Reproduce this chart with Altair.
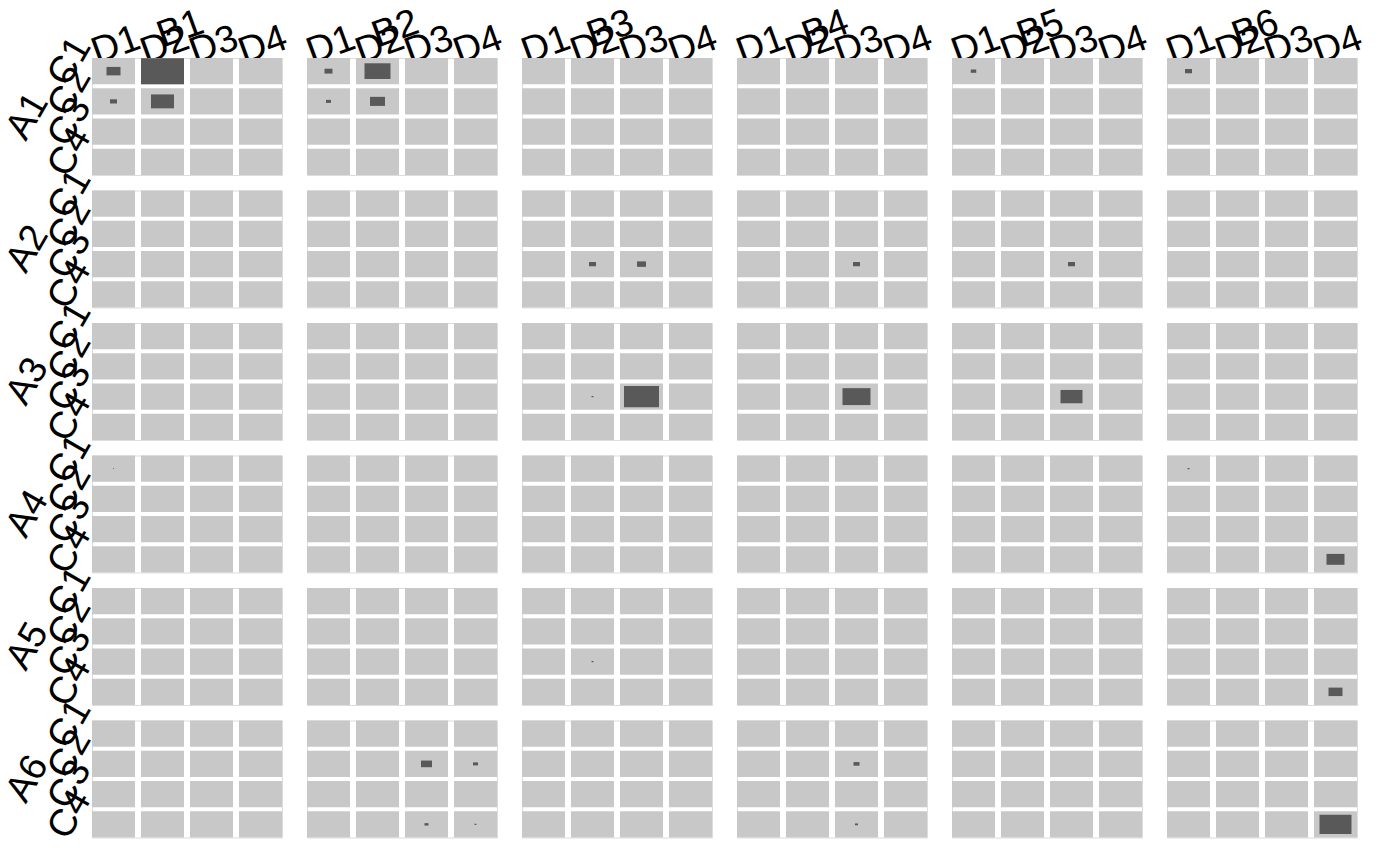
import altair as alt
import pandas as pd

A_CATS = ["A1", "A2", "A3", "A4", "A5", "A6"]
B_CATS = ["B1", "B2", "B3", "B4", "B5", "B6"]
C_CATS = ["C1", "C2", "C3", "C4"]
D_CATS = ["D1", "D2", "D3", "D4"]

# non-empty cells (value read from the area of the dark boxes)
cell_a = ["A1", "A1", "A1", "A1", "A1", "A1", "A1", "A1", "A1", "A1",
          "A2", "A2", "A2", "A2",
          "A3", "A3", "A3", "A3",
          "A4", "A4", "A4",
          "A5", "A5",
          "A6", "A6", "A6", "A6", "A6", "A6", "A6"]
cell_b = ["B1", "B1", "B1", "B1", "B2", "B2", "B2", "B2", "B5", "B6",
          "B3", "B3", "B4", "B5",
          "B3", "B3", "B4", "B5",
          "B1", "B6", "B6",
          "B3", "B6",
          "B2", "B2", "B2", "B2", "B4", "B4", "B6"]
cell_c = ["C1", "C1", "C2", "C2", "C1", "C1", "C2", "C2", "C1", "C1",
          "C3", "C3", "C3", "C3",
          "C3", "C3", "C3", "C3",
          "C1", "C1", "C4",
          "C3", "C4",
          "C2", "C2", "C4", "C4", "C2", "C4", "C4"]
cell_d = ["D1", "D2", "D1", "D2", "D1", "D2", "D1", "D2", "D1", "D1",
          "D2", "D3", "D3", "D3",
          "D2", "D3", "D3", "D3",
          "D1", "D1", "D4",
          "D2", "D4",
          "D3", "D4", "D3", "D4", "D3", "D3", "D4"]
cell_n = [196, 1849, 49, 529, 64, 676, 25, 225, 30, 49,
          49, 81, 49, 49,
          4, 1225, 784, 484,
          1, 4, 324,
          4, 196,
          121, 25, 16, 4, 36, 9, 1024]

lookup = {(a, b, c, d): n for a, b, c, d, n in zip(cell_a, cell_b, cell_c, cell_d, cell_n)}
rows = []
for a in A_CATS:
    for b in B_CATS:
        for c in C_CATS:
            for d in D_CATS:
                rows.append({"A": a, "B": b, "C": c, "D": d, "n": lookup.get((a, b, c, d), 0)})
df = pd.DataFrame(rows)

FONT = "Liberation Sans"
FS = 38
RECT_PATH = "M-1,-0.605L1,-0.605L1,0.605L-1,0.605Z"

x_enc = alt.X("D:N", sort=D_CATS, title=None,
              scale=alt.Scale(paddingInner=0.122, paddingOuter=0),
              axis=alt.Axis(orient="top", labelAngle=340, labelFontSize=FS, labelFont=FONT,
                            labelColor="black", domain=False, ticks=False, grid=False,
                            labelPadding=-6, labelOffset=9, labelAlign="center",
                            labelBaseline="bottom",
                            minExtent=20, maxExtent=20, labelOverlap=False))
y_enc = alt.Y("C:N", sort=C_CATS, title=None,
              scale=alt.Scale(paddingInner=0.13, paddingOuter=0),
              axis=alt.Axis(labelAngle=300, labelFontSize=FS, labelFont=FONT,
                            labelColor="black", domain=False, ticks=False, grid=False,
                            labelPadding=5, labelAlign="center", labelBaseline="bottom",
                            minExtent=30, maxExtent=30, labelOverlap=False))

bg = alt.Chart().mark_rect(color="#c8c8c8").encode(x=x_enc, y=y_enc)
fg = alt.Chart().mark_point(shape=RECT_PATH, filled=True, opacity=1, color="#595959",
                            strokeWidth=0).encode(
    x=alt.X("D:N", sort=D_CATS),
    y=alt.Y("C:N", sort=C_CATS),
    size=alt.Size("n:Q", scale=alt.Scale(domain=[0, 1849], range=[0, 1849]), legend=None),
)

chart = alt.layer(bg, fg, data=df).properties(width=190, height=117).facet(
    row=alt.Row("A:N", sort=A_CATS, title=None,
                header=alt.Header(labelAngle=300, labelFontSize=FS, labelFont=FONT,
                                  labelOrient="left", labelColor="black",
                                  labelAlign="center", labelBaseline="middle",
                                  labelPadding=-43)),
    column=alt.Column("B:N", sort=B_CATS, title=None,
                      header=alt.Header(labelAngle=340, labelFontSize=FS, labelFont=FONT,
                                        labelColor="black", labelAlign="center",
                                        labelBaseline="bottom", labelPadding=-80)),
    spacing={"row": 13.5, "column": 23},
).configure_view(stroke=None).configure(background="white").properties(
    padding={"left": -9, "top": -5, "right": 0, "bottom": 0})

chart.save("out.html", embed_options={"renderer": "svg", "actions": False})
